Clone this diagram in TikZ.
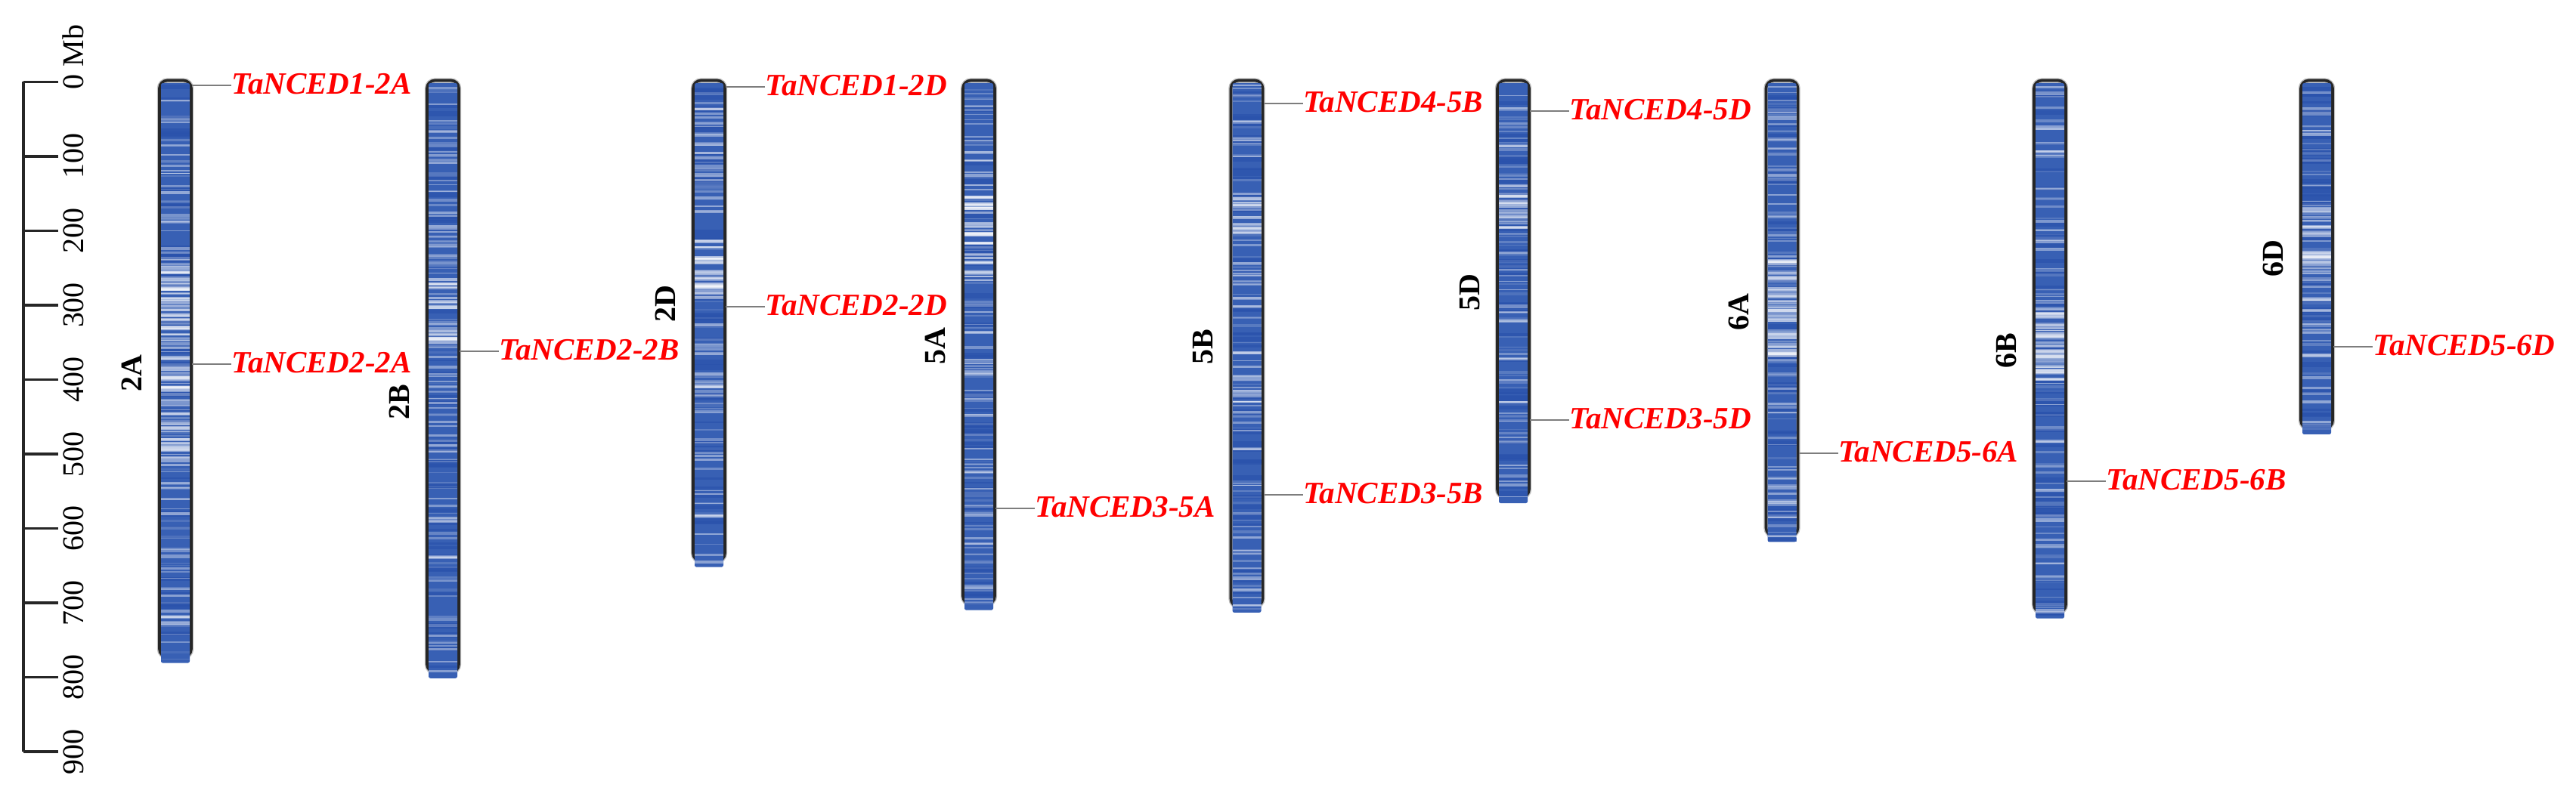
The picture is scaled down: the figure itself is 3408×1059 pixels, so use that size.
\documentclass[tikz,border=0pt]{standalone}
\usepackage{fontspec}
\setmainfont{Liberation Serif}
\definecolor{chromblue}{RGB}{56,96,180}
\definecolor{chromdark}{RGB}{42,82,172}
\definecolor{bordergray}{RGB}{38,38,38}
\definecolor{halogray}{RGB}{190,190,190}
\definecolor{linegray}{RGB}{125,125,125}
\definecolor{genered}{RGB}{255,0,0}
\tikzset{
  chromhalo/.style={draw=halogray, line width=1.6pt, rounded corners=2.6pt},
  chromborder/.style={draw=bordergray, line width=0.9pt, rounded corners=2.6pt},
  rulerline/.style={draw=black!85, line width=0.8pt},
  geneline/.style={draw=linegray, line width=0.6pt},
  genelabel/.style={anchor=west, inner sep=0pt, text=genered, font=\fontsize{10.25}{12}\selectfont\bfseries\itshape},
  chromlabel/.style={rotate=90, inner sep=0pt, font=\fontsize{10}{12}\selectfont\bfseries},
  ticklabel/.style={rotate=90, inner sep=0pt, font=\fontsize{10}{12}\selectfont}
}
% #1 x centre, #2 length (Mb), #3 light start, #4 light end (Mb)
\newcommand\drawchromosome[4]{%
  \pgfmathsetmacro\ctop{108.5}%
  \pgfmathsetmacro\cbot{108.5+0.985*#2}%
  \pgfmathtruncatemacro\nall{#2/6}%
  \pgfmathtruncatemacro\nlight{(#4-#3)/3.2}%
  \draw[chromhalo] (#1-21,\ctop-2) rectangle (#1+21,\cbot-8);
  \draw[chromborder] (#1-21,\ctop-2) rectangle (#1+21,\cbot-8);
  \fill[chromblue, rounded corners=0.6pt] (#1-19,\ctop+1.5) rectangle (#1+19,\cbot);
  \foreach \k in {1,...,40}{%
    \pgfmathsetmacro\yy{\ctop+3+rnd*(\cbot-\ctop-8)}%
    \pgfmathsetmacro\hh{2+6*rnd}%
    \fill[chromdark, opacity=0.7] (#1-19,\yy) rectangle (#1+19,\yy+\hh);
  }
  \foreach \k in {1,...,\nall}{%
    \pgfmathsetmacro\yy{\ctop+3+rnd*(\cbot-\ctop-8)}%
    \pgfmathsetmacro\op{0.08+0.38*rnd}%
    \pgfmathsetmacro\hh{1+3*rnd}%
    \fill[white, opacity=\op] (#1-19,\yy) rectangle (#1+19,\yy+\hh);
  }
  \foreach \k in {1,...,\nlight}{%
    \pgfmathsetmacro\yy{108.5+0.985*(#3+rnd*(#4-#3))}%
    \pgfmathsetmacro\op{0.15+0.45*rnd}%
    \pgfmathsetmacro\hh{1.5+3*rnd}%
    \fill[white, opacity=\op] (#1-19,\yy) rectangle (#1+19,\yy+\hh);
  }
}
% #1 x centre, #2 y, #3 text, #4 name
\newcommand\drawgene[4]{%
  \coordinate (#4s) at (#1+22,#2);
  \node[genelabel] (#4) at (#1+74,#2-1.5) {#3};
  \draw[geneline] (#4s) -- (#4s -| #4.west);
}
\begin{document}
\begin{tikzpicture}[x=0.25pt, y=-0.25pt]
\useasboundingbox (0,0) rectangle (3408,1059);
\pgfmathsetseed{4242}
% ruler
\draw[rulerline] (31,108.5) -- (31,995);
\foreach \m in {0,...,9}{%
  \coordinate (rt\m) at (31,108.5+98.5*\m);
  \draw[rulerline] (rt\m) -- ++(46,0);
}
\node[ticklabel, anchor=west] (lab0) at (97,119) {0 Mb};
\foreach \m/\t in {1/100,2/200,3/300,4/400,5/500,6/600,7/700,8/800,9/900}{%
  \node[ticklabel] (lab\m) at (97,108.5+98.5*\m) {\t};
}
% chromosomes
\drawchromosome{232}{780.8}{240}{495}
\drawchromosome{586}{801.3}{260}{357}
\drawchromosome{938}{651.9}{210}{290}
\drawchromosome{1295}{709.8}{152}{262}
\drawchromosome{1649.5}{713.1}{148}{202}
\drawchromosome{2002}{566.1}{146}{198}
\drawchromosome{2357.5}{618.1}{238}{370}
\drawchromosome{2712}{720.99}{303}{397}
\drawchromosome{3065}{473.6}{164}{258}
% chromosome names
\node[chromlabel] (c2A) at (174.5,494) {2A};
\node[chromlabel] (c2B) at (528.5,532) {2B};
\node[chromlabel] (c2D) at (880.5,402) {2D};
\node[chromlabel] (c5A) at (1237.5,458) {5A};
\node[chromlabel] (c5B) at (1592,459) {5B};
\node[chromlabel] (c5D) at (1944.5,387) {5D};
\node[chromlabel] (c6A) at (2300,413) {6A};
\node[chromlabel] (c6B) at (2654.5,464) {6B};
\node[chromlabel] (c6D) at (3007.5,342) {6D};
% genes
\drawgene{232}{113}{TaNCED1-2A}{g1}
\drawgene{232}{482}{TaNCED2-2A}{g2}
\drawgene{586}{465}{TaNCED2-2B}{g3}
\drawgene{938}{115}{TaNCED1-2D}{g4}
\drawgene{938}{406}{TaNCED2-2D}{g5}
\drawgene{1295}{673}{TaNCED3-5A}{g6}
\drawgene{1649.5}{137}{TaNCED4-5B}{g7}
\drawgene{1649.5}{655}{TaNCED3-5B}{g8}
\drawgene{2002}{147}{TaNCED4-5D}{g9}
\drawgene{2002}{556}{TaNCED3-5D}{g10}
\drawgene{2357.5}{600}{TaNCED5-6A}{g11}
\drawgene{2712}{637}{TaNCED5-6B}{g12}
\drawgene{3065}{459}{TaNCED5-6D}{g13}
\end{tikzpicture}
\end{document}
